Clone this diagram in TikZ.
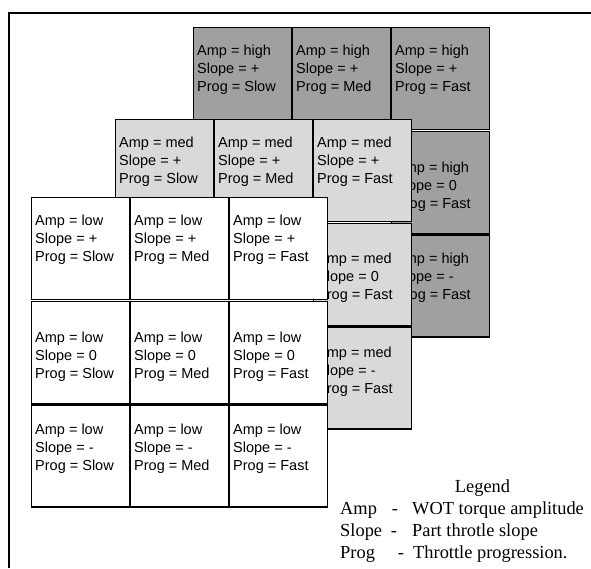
\documentclass[tikz,border=0pt]{standalone}
\usepackage{fontspec}
\setmainfont{Liberation Serif}
\newfontfamily\cellfont{Liberation Sans}
\usetikzlibrary{math}

\definecolor{highgray}{RGB}{160,160,160}
\definecolor{medgray}{RGB}{217,217,217}

\tikzset{
  cellbox/.style={draw, line width=1.2pt, minimum width=97.5pt, minimum height=102pt, inner sep=0pt, anchor=north west},
  highcell/.style={cellbox, fill=highgray},
  medcell/.style={cellbox, fill=medgray},
  lowcell/.style={cellbox, fill=white},
  celltext/.style={anchor=north west, inner sep=0pt, align=left, font=\cellfont\fontsize{14.5}{18}\selectfont},
  legendtext/.style={inner sep=0pt, font=\fontsize{18.4}{22}\selectfont}
}

\begin{document}
\begin{tikzpicture}[x=1pt,y=-1pt]

\tikzmath{
\px = 99;
\py = 103.7;
}

\useasboundingbox (0,0) rectangle (591,568);

\draw[line width=1.2pt] (9,568) -- (9,13) -- (591,13);

% back layer, Amp = high
\node[highcell] (h11) at (193+0*\px,27+0*\py) {};
\node[celltext] (th11) at ([shift={(4,18)}]h11.north west) {Amp = high\\Slope = +\\Prog = Slow};
\node[highcell] (h12) at (193+1*\px,27+0*\py) {};
\node[celltext] (th12) at ([shift={(4,18)}]h12.north west) {Amp = high\\Slope = +\\Prog = Med};
\node[highcell] (h13) at (193+2*\px,27+0*\py) {};
\node[celltext] (th13) at ([shift={(4,18)}]h13.north west) {Amp = high\\Slope = +\\Prog = Fast};
\node[highcell] (h23) at (193+2*\px,27+1*\py) {};
\node[celltext] (th23) at ([shift={(4,31)}]h23.north west) {Amp = high\\Slope = 0\\Prog = Fast};
\node[highcell] (h33) at (193+2*\px,27+2*\py) {};
\node[celltext] (th33) at ([shift={(4,18)}]h33.north west) {Amp = high\\Slope = -\\Prog = Fast};

% middle layer, Amp = med
\node[medcell] (m11) at (115+0*\px,119+0*\py) {};
\node[celltext] (tm11) at ([shift={(4,18)}]m11.north west) {Amp = med\\Slope = +\\Prog = Slow};
\node[medcell] (m12) at (115+1*\px,119+0*\py) {};
\node[celltext] (tm12) at ([shift={(4,18)}]m12.north west) {Amp = med\\Slope = +\\Prog = Med};
\node[medcell] (m13) at (115+2*\px,119+0*\py) {};
\node[celltext] (tm13) at ([shift={(4,18)}]m13.north west) {Amp = med\\Slope = +\\Prog = Fast};
\node[medcell] (m23) at (115+2*\px,119+1*\py) {};
\node[celltext] (tm23) at ([shift={(4,30)}]m23.north west) {Amp = med\\Slope = 0\\Prog = Fast};
\node[medcell] (m33) at (115+2*\px,119+2*\py) {};
\node[celltext] (tm33) at ([shift={(4,20)}]m33.north west) {Amp = med\\Slope = -\\Prog = Fast};

% front layer, Amp = low
\node[lowcell] (l11) at (31+0*\px,197+0*\py) {};
\node[celltext] (tl11) at ([shift={(4,18)}]l11.north west) {Amp = low\\Slope = +\\Prog = Slow};
\node[lowcell] (l12) at (31+1*\px,197+0*\py) {};
\node[celltext] (tl12) at ([shift={(4,18)}]l12.north west) {Amp = low\\Slope = +\\Prog = Med};
\node[lowcell] (l13) at (31+2*\px,197+0*\py) {};
\node[celltext] (tl13) at ([shift={(4,18)}]l13.north west) {Amp = low\\Slope = +\\Prog = Fast};
\node[lowcell] (l21) at (31+0*\px,197+1*\py) {};
\node[celltext] (tl21) at ([shift={(4,31)}]l21.north west) {Amp = low\\Slope = 0\\Prog = Slow};
\node[lowcell] (l22) at (31+1*\px,197+1*\py) {};
\node[celltext] (tl22) at ([shift={(4,31)}]l22.north west) {Amp = low\\Slope = 0\\Prog = Med};
\node[lowcell] (l23) at (31+2*\px,197+1*\py) {};
\node[celltext] (tl23) at ([shift={(4,31)}]l23.north west) {Amp = low\\Slope = 0\\Prog = Fast};
\node[lowcell] (l31) at (31+0*\px,197+2*\py) {};
\node[celltext] (tl31) at ([shift={(4,19)}]l31.north west) {Amp = low\\Slope = -\\Prog = Slow};
\node[lowcell] (l32) at (31+1*\px,197+2*\py) {};
\node[celltext] (tl32) at ([shift={(4,19)}]l32.north west) {Amp = low\\Slope = -\\Prog = Med};
\node[lowcell] (l33) at (31+2*\px,197+2*\py) {};
\node[celltext] (tl33) at ([shift={(4,19)}]l33.north west) {Amp = low\\Slope = -\\Prog = Fast};

% legend
\node[legendtext, anchor=base] (legend) at (482.5,492) {Legend};
\node[legendtext, anchor=base west] (kamp) at (340,514) {Amp};
\node[legendtext, anchor=base] (damp) at (395,514) {-};
\node[legendtext, anchor=base west] (vamp) at (412,514) {WOT torque amplitude};
\node[legendtext, anchor=base west] (kslope) at (340,536) {Slope};
\node[legendtext, anchor=base] (dslope) at (394,536) {-};
\node[legendtext, anchor=base west] (vslope) at (412,536) {Part throtle slope};
\node[legendtext, anchor=base west] (kprog) at (340,558) {Prog};
\node[legendtext, anchor=base] (dprog) at (401,558) {-};
\node[legendtext, anchor=base west] (vprog) at (413,558) {Throttle progression.};

\end{tikzpicture}
\end{document}
